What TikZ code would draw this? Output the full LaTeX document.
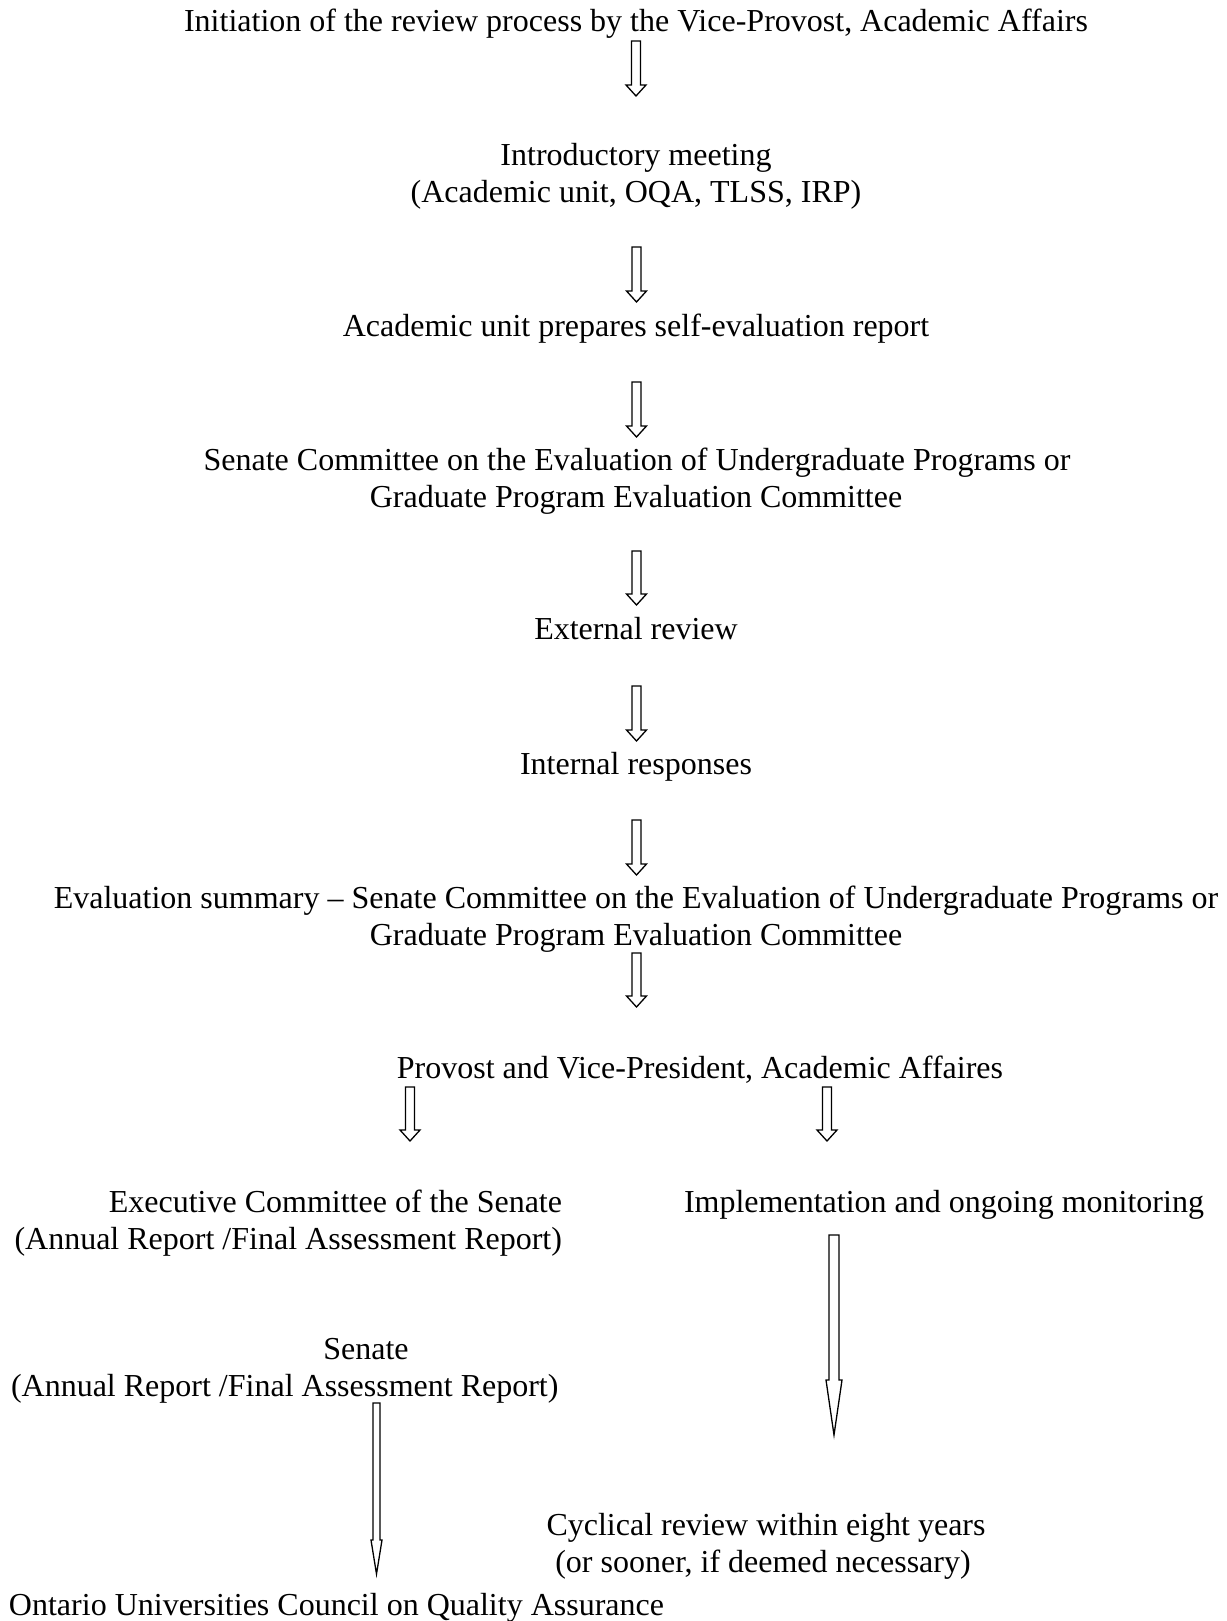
\documentclass[tikz,border=0pt]{standalone}
\usepackage{fontspec}
\setmainfont{Liberation Serif}
\usetikzlibrary{calc}
\tikzset{
  txt/.style={inner sep=0pt, outer sep=0pt, font=\fontsize{32}{36.8}\selectfont, anchor=base},
  blockarrow/.style={draw=black, line width=1.3pt, fill=white, line join=miter},
}
% #1 top coordinate, #2 tip coordinate, #3 shaft half width, #4 head half width, #5 head length
\newcommand{\blockarrowdraw}[5]{%
  \draw[blockarrow] ($(#1)+(-#3,0)$) -- ($(#2)+(-#3,-#5)$) -- ($(#2)+(-#4,-#5)$) -- (#2)
    -- ($(#2)+(#4,-#5)$) -- ($(#2)+(#3,-#5)$) -- ($(#1)+(#3,0)$) -- cycle;}
\begin{document}
\begin{tikzpicture}[x=1pt,y=-1pt]
\useasboundingbox[fill=white] (0,0) rectangle (1226,1621);

% texts
\node[txt] (t1) at (636,32) {Initiation of the review process by the Vice-Provost, Academic Affairs};
\node[txt] (t2a) at (636,166) {Introductory meeting};
\node[txt] (t2b) at (636,203) {(Academic unit, OQA, TLSS, IRP)};
\node[txt] (t3) at (636,336) {Academic unit prepares self-evaluation report};
\node[txt] (t4a) at (637,470) {Senate Committee on the Evaluation of Undergraduate Programs or};
\node[txt] (t4b) at (636,507) {Graduate Program Evaluation Committee};
\node[txt] (t5) at (636,639) {External review};
\node[txt] (t6) at (636,774) {Internal responses};
\node[txt] (t7a) at (636,908) {Evaluation summary -- Senate Committee on the Evaluation of Undergraduate Programs or};
\node[txt] (t7b) at (636,945) {Graduate Program Evaluation Committee};
\node[txt] (t8) at (700,1078) {Provost and Vice-President, Academic Affaires};
\node[txt,anchor=base east] (t9a) at (562,1212) {Executive Committee of the Senate};
\node[txt,anchor=base east] (t9b) at (562,1249) {(Annual Report /Final Assessment Report)};
\node[txt] (t9c) at (944,1212) {Implementation and ongoing monitoring};
\node[txt] (t10a) at (366,1359) {Senate};
\node[txt,anchor=base west] (t10b) at (11,1396) {(Annual Report /Final Assessment Report)};
\node[txt] (t10c) at (766,1535) {Cyclical review within eight years};
\node[txt] (t10d) at (763,1572) {(or sooner, if deemed necessary)};
\node[txt,anchor=base west] (t11) at (9,1615) {Ontario Universities Council on Quality Assurance};

% arrow end points
\coordinate (a1t) at (636,41);   \coordinate (a1b) at (636,96);
\coordinate (a2t) at (636.5,247); \coordinate (a2b) at (636.5,302);
\coordinate (a3t) at (636.5,382); \coordinate (a3b) at (636.5,437);
\coordinate (a4t) at (636.5,551); \coordinate (a4b) at (636.5,605);
\coordinate (a5t) at (636.5,686); \coordinate (a5b) at (636.5,741);
\coordinate (a6t) at (636.5,820); \coordinate (a6b) at (636.5,875);
\coordinate (a7t) at (636.5,953); \coordinate (a7b) at (636.5,1007);
\coordinate (a8t) at (410,1087); \coordinate (a8b) at (410,1141);
\coordinate (a9t) at (827,1087); \coordinate (a9b) at (827,1141);
\coordinate (a10t) at (834,1235); \coordinate (a10b) at (834,1435);
\coordinate (a11t) at (376.5,1403); \coordinate (a11b) at (376.5,1574);

\blockarrowdraw{a1t}{a1b}{4.5}{10}{11}
\blockarrowdraw{a2t}{a2b}{4.5}{10}{11}
\blockarrowdraw{a3t}{a3b}{4.5}{10}{11}
\blockarrowdraw{a4t}{a4b}{4.5}{10}{11}
\blockarrowdraw{a5t}{a5b}{4.5}{10}{11}
\blockarrowdraw{a6t}{a6b}{4.5}{10}{11}
\blockarrowdraw{a7t}{a7b}{4.5}{10}{11}
\blockarrowdraw{a8t}{a8b}{4.5}{10}{11}
\blockarrowdraw{a9t}{a9b}{4.5}{10}{11}
\blockarrowdraw{a10t}{a10b}{5}{8}{55}
\blockarrowdraw{a11t}{a11b}{3.5}{5.5}{34}
\end{tikzpicture}
\end{document}
